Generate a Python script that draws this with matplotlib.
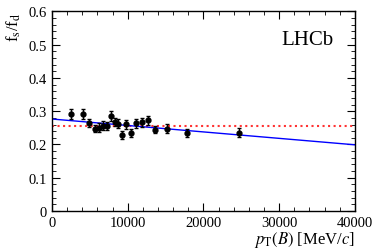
import matplotlib
matplotlib.use("Agg")
import matplotlib.pyplot as plt
from matplotlib.ticker import MultipleLocator

plt.rcParams['font.family'] = ['Liberation Serif', 'DejaVu Serif']
plt.rcParams['mathtext.fontset'] = 'stix'

# data
pt = [2510, 4050, 4880, 5680, 6250, 6730, 7220, 7790, 8270, 8760,
      9240, 9770, 10380, 11130, 11880, 12630, 13640, 15140, 17780, 24730]
ratio = [0.292, 0.292, 0.265, 0.248, 0.251, 0.257, 0.256, 0.286, 0.268, 0.263,
         0.229, 0.261, 0.235, 0.264, 0.267, 0.273, 0.245, 0.248, 0.235, 0.235]
err = [0.014, 0.014, 0.013, 0.012, 0.013, 0.013, 0.013, 0.014, 0.013, 0.013,
       0.012, 0.013, 0.012, 0.013, 0.013, 0.014, 0.012, 0.013, 0.012, 0.014]
fit_x = [0, 40000]
fit_y = [0.2765, 0.199]
mean_val = 0.256

fig = plt.figure(figsize=(3.74, 2.53), dpi=100)
ax = fig.add_axes([0.139, 0.162, 0.81, 0.789])

ax.axhline(mean_val, color='#ff3333', ls=':', lw=1.5)
ax.plot(fit_x, fit_y, color='#0000ff', lw=1)
ax.errorbar(pt, ratio, yerr=err, fmt='o', color='black', ms=3.5,
            elinewidth=1, capsize=1.2, capthick=1)

ax.set_xlim(0, 40000)
ax.set_ylim(0, 0.6)
ax.xaxis.set_major_locator(MultipleLocator(10000))
ax.xaxis.set_minor_locator(MultipleLocator(2000))
ax.yaxis.set_major_locator(MultipleLocator(0.1))
ax.yaxis.set_minor_locator(MultipleLocator(0.02))
ax.tick_params(which='both', direction='in', top=True, right=True, labelsize=10.5)
ax.tick_params(which='major', length=6)
ax.tick_params(which='minor', length=3)
ax.set_yticks([0, 0.1, 0.2, 0.3, 0.4, 0.5, 0.6])
ax.set_yticklabels(['0', '0.1', '0.2', '0.3', '0.4', '0.5', '0.6'])
for s in ax.spines.values():
    s.set_linewidth(1)

ax.set_xlabel(r'$p_{\rm T}(B)$ [MeV/$c$]', fontsize=12, loc='right', labelpad=0)
ax.set_ylabel(r'f$_{\rm s}$/f$_{\rm d}$', fontsize=12, loc='top', labelpad=4)
ax.text(0.93, 0.86, 'LHCb', transform=ax.transAxes, ha='right', va='center',
        fontsize=15)

fig.savefig('out.png', dpi=100)
